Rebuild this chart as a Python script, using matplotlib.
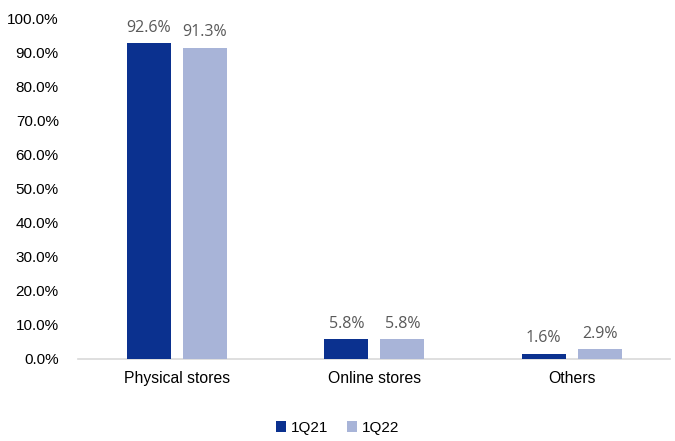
import numpy as np
import matplotlib
matplotlib.use("Agg")
import matplotlib.pyplot as plt
from matplotlib.ticker import PercentFormatter

# Data
categories = ["Physical stores", "Online stores", "Others"]
series_names = ["1Q21", "1Q22"]
values_1q21 = [92.6, 5.8, 1.6]
values_1q22 = [91.3, 5.8, 2.9]
colors = ["#0b318f", "#a8b4d8"]

plt.rcParams['font.family'] = ['Liberation Sans', 'DejaVu Sans']

fig = plt.figure(figsize=(6.75, 4.41), dpi=100)
ax = fig.add_axes([0.116, 0.186, 0.877, 0.773])

x = np.arange(len(categories))
width = 0.223
offset = 0.142

for vals, name, col, off in zip([values_1q21, values_1q22], series_names, colors, [-offset, offset]):
    bars = ax.bar(x + off, vals, width, color=col, label=name, zorder=3)
    for b, v in zip(bars, vals):
        ax.text(b.get_x() + b.get_width() / 2, v + 2.2, f"{v:.1f}%",
                ha="center", va="bottom", fontsize=11.5, color="#595959",
                family=["Open Sans", "DejaVu Sans"])

ax.set_xlim(-0.5, 2.5)
ax.set_ylim(0, 100)
ax.set_yticks(np.arange(0, 101, 10))
ax.yaxis.set_major_formatter(PercentFormatter(decimals=1))
ax.set_xticks(x)
ax.set_xticklabels(categories)
ax.tick_params(axis="both", length=0, labelsize=11, colors="#000000")
ax.tick_params(axis="x", labelsize=11.3, pad=9)
ax.tick_params(axis="y", pad=14)

for s in ["top", "right", "left"]:
    ax.spines[s].set_visible(False)
ax.spines["bottom"].set_color("#d9d9d9")
ax.spines["bottom"].set_linewidth(1.2)

fig.legend(loc="lower center", bbox_to_anchor=(0.5, -0.018), ncol=2, frameon=False,
           fontsize=11, handlelength=0.7, handleheight=0.7, handletextpad=0.3,
           columnspacing=1.2)

fig.savefig("out.png", dpi=100)
